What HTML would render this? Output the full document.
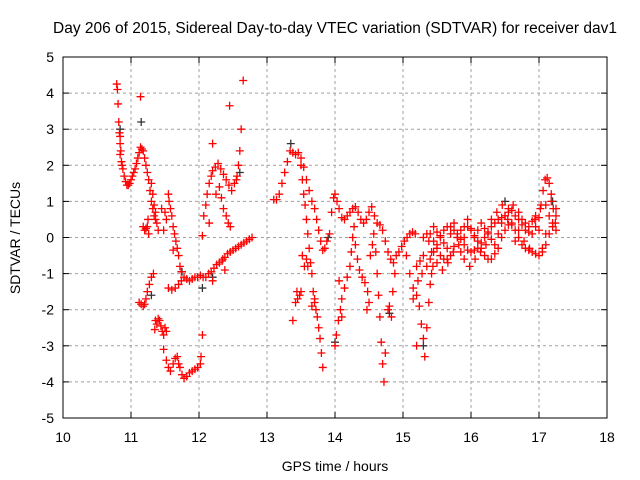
<!DOCTYPE html>
<html><head><meta charset="utf-8"><style>
body{margin:0;background:#fff;}
svg{display:block;font-family:"Liberation Sans",sans-serif;}
</style></head><body>
<svg id="chart" width="640" height="480">
<text x="335" y="33" text-anchor="middle" font-size="15.5">Day 206 of 2015, Sidereal Day-to-day VTEC variation (SDTVAR) for receiver dav1</text>
<text x="335" y="471" text-anchor="middle" font-size="14">GPS time / hours</text>
<text transform="translate(20,238) rotate(-90)" text-anchor="middle" font-size="14">SDTVAR / TECUs</text>
<g id="grid"></g><g id="marks"></g><g id="axes"></g>
</svg>
<script>
const xTicks=[10,11,12,13,14,15,16,17,18];
const yTicks=[-5,-4,-3,-2,-1,0,1,2,3,4,5];
const trackA=[[10.79,4.25],[10.8,4.1],[10.81,3.7],[10.82,3.2],[10.83,2.9],[10.84,2.6],[10.84,2.3],[10.85,2.4],[10.86,2.1],[10.87,2.0],[10.88,1.9],[10.9,1.7],[10.92,1.55],[10.94,1.45],[10.96,1.45],[10.98,1.5],[11.0,1.6],[11.02,1.7],[11.04,1.8],[11.06,1.9],[11.08,2.05],[11.1,2.2],[11.12,2.35],[11.14,2.5],[11.16,2.45],[11.18,2.4],[11.2,2.2],[11.22,2.0],[11.24,1.8],[11.26,1.6],[11.28,1.3],[11.3,1.0],[11.32,0.8],[11.34,0.6],[11.36,0.5],[11.38,0.4],[11.4,0.2],[11.14,3.9],[10.84,2.8]];
const trackB=[[11.18,0.3],[11.2,0.2],[11.22,0.25],[11.24,0.3],[11.26,0.1],[11.25,0.5],[11.3,1.5],[11.32,1.2],[11.34,0.9],[11.36,0.7]];
const trackC=[[11.12,-1.8],[11.15,-1.85],[11.18,-1.9],[11.2,-1.85],[11.22,-1.7],[11.24,-1.5],[11.27,-1.3],[11.3,-1.1],[11.33,-1.0]];
const trackD=[[11.35,-2.55],[11.38,-2.4],[11.4,-2.25],[11.42,-2.3],[11.44,-2.45],[11.46,-2.6],[11.48,-2.7],[11.5,-2.5],[11.52,-2.6],[11.36,-2.3]];
const trackE=[[11.55,1.2],[11.56,1.0],[11.58,0.8],[11.6,0.6],[11.62,0.3],[11.64,0.1],[11.66,-0.1],[11.68,-0.3],[11.7,-0.5],[11.72,-0.8],[11.74,-0.95],[11.5,0.7],[11.52,0.5],[11.45,0.8],[11.48,0.2],[11.62,-0.35]];
const trackF=[[11.55,-1.4],[11.6,-1.45],[11.65,-1.4],[11.7,-1.3],[11.74,-1.2],[11.78,-1.1],[11.82,-1.15],[11.86,-1.2],[11.9,-1.15],[11.94,-1.1],[11.98,-1.1],[12.02,-1.05],[12.06,-1.1],[12.1,-1.1],[12.14,-1.0],[12.18,-0.95],[12.22,-0.85],[12.26,-0.75],[12.3,-0.7],[12.34,-0.65],[12.38,-0.55],[12.42,-0.45],[12.46,-0.4],[12.5,-0.35],[12.54,-0.3],[12.58,-0.25],[12.62,-0.2],[12.66,-0.15],[12.7,-0.1],[12.74,-0.05],[12.78,0.0],[12.2,-1.2],[12.35,-0.6],[12.38,-0.9]];
const trackG=[[11.48,-3.1],[11.52,-3.4],[11.55,-3.6],[11.58,-3.7],[11.62,-3.5],[11.65,-3.35],[11.68,-3.3],[11.7,-3.5],[11.72,-3.6],[11.75,-3.8],[11.78,-3.9],[11.82,-3.85],[11.86,-3.75],[11.9,-3.7],[11.94,-3.65],[11.98,-3.6],[12.02,-3.5],[12.03,-3.3],[12.05,-2.7]];
const trackH=[[12.05,0.05],[12.07,0.6],[12.1,0.9],[12.12,1.2],[12.15,1.5],[12.18,1.7],[12.2,1.85],[12.24,1.95],[12.28,2.05],[12.32,1.9],[12.36,1.75],[12.4,1.6],[12.44,1.45],[12.48,1.3],[12.52,1.5],[12.56,1.7],[12.58,2.0],[12.6,2.4],[12.62,3.0],[12.65,4.35],[12.45,3.65],[12.3,1.4],[12.33,1.1],[12.36,0.8],[12.4,0.6],[12.43,0.4],[12.46,0.3],[12.2,2.6],[12.55,1.6],[12.25,1.2],[12.15,0.4]];
const trackI=[[13.1,1.05],[13.14,1.05],[13.18,1.2],[13.22,1.5],[13.26,1.8],[13.3,2.1],[13.34,2.4],[13.38,2.35],[13.42,2.3],[13.46,2.35],[13.5,2.2],[13.54,1.95],[13.58,1.6],[13.62,1.3],[13.66,1.0],[13.7,0.8],[13.73,0.5],[13.76,0.2],[13.79,-0.1],[13.82,-0.35],[13.85,-0.3],[13.88,-0.1],[13.92,0.1]];
const trackJ=[[13.5,2.0],[13.52,1.6],[13.54,1.2],[13.56,0.9],[13.58,0.5],[13.6,0.1],[13.62,-0.3],[13.64,-0.7],[13.66,-1.0],[13.68,-1.5],[13.7,-1.8],[13.72,-2.0],[13.74,-2.2],[13.76,-2.5],[13.78,-2.8],[13.8,-3.2],[13.82,-3.6],[13.6,-0.8],[13.58,-0.6]];
const trackK=[[13.38,-2.3],[13.42,-1.8],[13.45,-1.7],[13.48,-1.6],[13.5,-1.5],[13.44,-1.5],[13.7,-1.7],[13.66,-1.9],[13.52,-0.5],[13.55,-0.8]];
const trackM=[[13.95,0.7],[13.98,1.1],[14.0,1.2],[14.03,1.0],[14.06,0.8],[14.1,0.55],[14.14,0.5],[14.18,0.6],[14.22,0.7],[14.26,0.8],[14.3,0.85],[14.34,0.7],[14.38,0.5],[14.42,0.4],[14.46,0.5],[14.5,0.7],[14.54,0.85],[14.58,0.6],[14.62,0.4],[14.66,0.35],[14.7,0.2],[14.74,-0.1],[14.78,-0.4],[14.82,-0.6],[14.86,-0.7],[14.9,-0.5],[14.94,-0.4],[14.98,-0.25],[15.02,-0.1],[15.06,0.0],[15.1,0.1],[15.14,0.15],[15.18,0.1]];
const trackN=[[14.0,-3.0],[14.02,-2.7],[14.05,-2.3],[14.08,-2.0],[14.1,-1.7],[14.14,-1.4],[14.18,-1.1],[14.22,-0.8],[14.24,-0.4],[14.26,0.0],[14.28,0.3],[14.3,-0.2],[14.33,-0.6],[14.36,-0.9],[14.4,-1.1],[14.44,-1.25],[14.48,-1.5],[14.5,-1.8],[14.47,-2.0],[14.52,-0.5],[14.55,-0.2],[14.57,0.1],[14.6,-0.4],[14.62,-1.0],[14.64,-1.6],[14.66,-2.2],[14.68,-2.9],[14.7,-3.5],[14.72,-4.0],[14.74,-3.2],[14.78,-2.0],[14.8,-1.9],[14.83,-2.2],[14.85,-1.5],[14.88,-1.0],[14.1,-2.2],[14.06,-1.2]];
const trackO=[[15.05,-0.5],[15.1,-1.0],[15.15,-1.4],[15.2,-1.6],[15.24,-1.9],[15.27,-2.4],[15.3,-2.8],[15.32,-3.3],[15.35,-2.5],[15.38,-1.8],[15.4,-1.3],[15.42,-1.0],[15.44,-0.8],[15.2,-3.0],[15.15,-1.7]];
const trackP1=[[15.4,-0.6],[15.45,-0.4],[15.5,-0.2],[15.55,0.05],[15.6,0.2],[15.65,0.3],[15.7,0.3],[15.75,0.2],[15.8,0.1],[15.85,-0.05],[15.9,-0.2],[15.95,-0.35],[16.0,-0.4],[16.05,-0.35],[16.1,-0.3],[16.15,-0.15],[16.2,0.0],[16.25,0.15],[16.3,0.3],[16.35,0.4],[16.4,0.5],[16.45,0.55],[16.5,0.6],[16.55,0.7],[16.6,0.75],[16.65,0.6],[16.7,0.5],[16.75,0.35],[16.8,0.2],[16.85,0.15],[16.9,0.1],[16.95,0.3],[17.0,0.55],[17.03,0.9],[17.06,1.3],[17.09,1.6],[17.12,1.65],[17.15,1.5],[17.18,1.2],[17.21,0.8],[17.24,0.4]];
const trackP2=[[15.3,0.0],[15.35,0.1],[15.4,0.1],[15.45,-0.1],[15.5,-0.3],[15.55,-0.5],[15.6,-0.6],[15.65,-0.6],[15.7,-0.5],[15.75,-0.25],[15.8,0.0],[15.85,0.2],[15.9,0.3],[15.95,0.3],[16.0,0.2],[16.05,0.05],[16.1,-0.1],[16.15,-0.3],[16.2,-0.5],[16.25,-0.6],[16.3,-0.6],[16.35,-0.45],[16.4,-0.3],[16.45,0.0],[16.5,0.2],[16.55,0.35],[16.6,0.4],[16.65,0.2],[16.7,0.0],[16.75,-0.2],[16.8,-0.3],[16.85,-0.35],[16.9,-0.4],[16.95,-0.45],[17.0,-0.5],[17.05,-0.4],[17.1,-0.2],[17.15,0.1],[17.2,0.3],[17.25,0.6]];
const trackP3=[[15.2,-0.8],[15.25,-0.65],[15.3,-0.5],[15.38,-0.1],[15.45,0.3],[15.5,0.15],[15.55,0.0],[15.6,-0.15],[15.65,-0.3],[15.7,0.1],[15.75,0.4],[15.8,0.0],[15.85,-0.4],[15.9,0.0],[15.95,0.5],[16.0,0.25],[16.05,0.0],[16.1,0.2],[16.15,0.4],[16.2,0.25],[16.25,0.1],[16.3,-0.05],[16.35,-0.2],[16.4,0.1],[16.45,0.4],[16.5,0.6],[16.55,0.8],[16.6,0.35],[16.65,-0.1],[16.7,0.2],[16.75,0.5],[16.8,0.4],[16.85,0.3],[16.9,0.45],[16.95,0.6],[17.0,0.2],[17.05,-0.3],[17.1,0.1],[17.15,0.6],[17.2,0.4],[17.25,0.2]];
const trackP4=[[15.22,-1.2],[15.28,-1.0],[15.35,-0.8],[15.42,-0.4],[15.5,-0.7],[15.58,-0.9],[15.66,-0.7],[15.74,-0.4],[15.82,-0.2],[15.9,-0.6],[15.98,-0.8],[16.06,-0.6],[16.14,-0.4],[16.22,-0.2],[16.3,0.5],[16.38,0.7],[16.46,0.9],[16.54,0.5],[16.62,0.9],[16.7,0.7],[16.78,-0.1],[16.86,-0.3],[16.94,0.5],[17.02,0.8],[17.1,0.9],[17.18,1.0],[17.25,0.8]];
const blackPts=[[10.84,3.0],[11.15,3.2],[11.3,-1.6],[11.75,-0.95],[12.05,-1.4],[12.6,1.8],[13.35,2.6],[14.0,-2.9],[14.8,-2.1],[15.3,-3.0],[16.5,1.0],[17.2,1.0],[13.9,0.0],[12.2,-1.1]];
const tracks=[trackA,trackB,trackC,trackD,trackE,trackF,trackG,trackH,trackI,trackJ,trackK,trackM,trackN,trackO,trackP1,trackP2,trackP3,trackP4];

const L=63,R=607,T=57,B=418;
const xs=t=>L+(t-10)/(18-10)*(R-L);
const ys=v=>B-(v+5)/10*(B-T);
const NS='http://www.w3.org/2000/svg';
function mk(tag,attrs,parent){const e=document.createElementNS(NS,tag);for(const k in attrs)e.setAttribute(k,attrs[k]);parent.appendChild(e);return e;}
const grid=document.getElementById('grid'),marks=document.getElementById('marks'),axes=document.getElementById('axes');
xTicks.forEach(t=>{
  const x=xs(t);
  if(t>10&&t<18){const g=mk('line',{x1:x,x2:x,y1:T,y2:B,stroke:'#a0a0a0','stroke-dasharray':'3,3','stroke-width':1},grid);
  
  }
  mk('line',{x1:x,x2:x,y1:B,y2:B-6,stroke:'#000'},axes);
  mk('line',{x1:x,x2:x,y1:T,y2:T+6,stroke:'#000'},axes);
  const lb=mk('text',{x:x,y:B+24,'text-anchor':'middle','font-size':14},axes);lb.textContent=t;
  
  
});
yTicks.forEach(v=>{
  const y=ys(v);
  if(v>-5&&v<5){const g=mk('line',{x1:L,x2:R,y1:y,y2:y,stroke:'#a0a0a0','stroke-dasharray':'3,3','stroke-width':1},grid);
  
  }
  mk('line',{x1:L,x2:L+6,y1:y,y2:y,stroke:'#000'},axes);
  mk('line',{x1:R,x2:R-6,y1:y,y2:y,stroke:'#000'},axes);
  const lb=mk('text',{x:L-9,y:y+5,'text-anchor':'end','font-size':14},axes);lb.textContent=v;
  
  
});
const fr=mk('rect',{x:L,y:T,width:R-L,height:B-T,fill:'none',stroke:'#000'},axes);


function plus(t,v,col){
  const x=xs(t),y=ys(v);
  const p=mk('path',{d:`M${x-4},${y}h8M${x},${y-4}v8`,stroke:col,'stroke-width':1.3,fill:'none'},marks);
  
  
}
blackPts.forEach(p=>plus(p[0],p[1],'#333'));
tracks.forEach(tr=>tr.forEach(p=>plus(p[0],p[1],'#ff0000')));
</script>
</body></html>
